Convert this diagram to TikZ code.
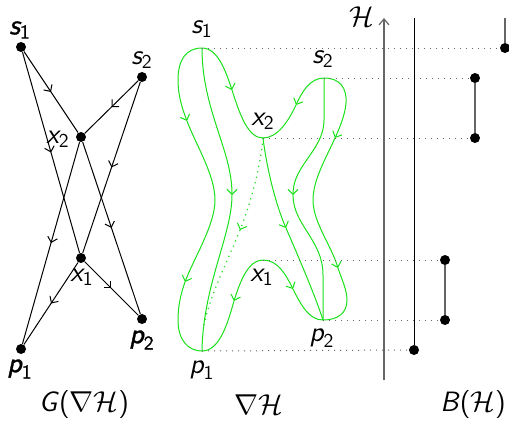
\documentclass[tikz,border=0pt]{standalone}
\usepackage{amsmath}
\usepackage{fontspec}
\newfontfamily\fbsans{lmsans10-regular.otf}[ItalicFont=lmsans10-oblique.otf, FakeBold=1.2]
\usetikzlibrary{arrows.meta,decorations.markings}
\definecolor{gr}{RGB}{25,225,25}
\newcommand\lb[2]{\textsf{$\text{\itshape #1}_{\text{#2}}$}}
\newcommand\blb[2]{{\fbsans$\text{\itshape #1}_{\text{#2}}$}}
\begin{document}
\begin{tikzpicture}[x=0.5pt,y=-0.5pt,font=\fontsize{14}{17}\selectfont,
  dot/.style={circle,fill=black,inner sep=0pt,minimum size=5pt},
  edge/.style={line width=0.5pt,postaction={decorate},
    decoration={markings,mark=at position 0.5 with {\arrow{Straight Barb[length=2.5pt,width=5pt]}}}},
  gl/.style={draw=gr,line width=0.5pt},
  gtip/.style={-{Straight Barb[length=2.5pt,width=5pt]}},
  gdot/.style={draw=gr,line width=0.6pt,dash pattern=on 0.6pt off 2.2pt},
  dotl/.style={draw=black!60,line width=0.5pt,dash pattern=on 0.6pt off 2.4pt},
  bar/.style={draw=black!60,line width=0.7pt},
  txt/.style={inner sep=0pt}]
\useasboundingbox (0,0) rectangle (509,425);

% ---------- left graph G ----------
\node[dot] (ls1) at (21,47) {};
\node[dot] (ls2) at (142,77) {};
\node[dot] (lx2) at (81,137) {};
\node[dot] (lx1) at (81,258) {};
\node[dot] (lp1) at (21,349) {};
\node[dot] (lp2) at (142,319) {};
\draw[edge] (ls1) -- (lx2);
\draw[edge] (ls1) -- (lx1);
\draw[edge] (ls2) -- (lx2);
\draw[edge] (ls2) -- (lx1);
\draw[edge] (lx2) -- (lp1);
\draw[edge] (lx2) -- (lp2);
\draw[edge] (lx1) -- (lp1);
\draw[edge] (lx1) -- (lp2);
\node[txt] (tls1) at (20,30) {\blb{s}{1}};
\node[txt] (tls2) at (142,60) {\lb{s}{2}};
\node[txt] (tlx2) at (58,139) {\lb{x}{2}};
\node[txt] (tlx1) at (82,277) {\lb{x}{1}};
\node[txt] (tlp1) at (20,369) {\blb{p}{1}};
\node[txt] (tlp2) at (142,340) {\blb{p}{2}};
\node[txt] (tG) at (84,405) {\textsf{\itshape G}\textsf{(}$\nabla\mathcal{H}$\textsf{)}};

% ---------- middle: nabla H ----------
\coordinate (mS1) at (202,48);
\coordinate (mS2) at (324,78);
\coordinate (mX2) at (263,138);
\coordinate (mX1) at (263,260);
\coordinate (mP2) at (323,320);
\coordinate (mP1) at (202,351);

% left boundary
\draw[gl,gtip] (mS1) .. controls (186,48) and (178,60) .. (178,80) .. controls (178,95) and (182,108) .. (187,121);
\draw[gl,gtip] (187,121) .. controls (196,145) and (215,175) .. (215,200) .. controls (215,225) and (194,258) .. (185,282);
\draw[gl] (185,282) .. controls (180,296) and (178,308) .. (178,320) .. controls (178,340) and (188,351) .. (mP1);
% s1 -> p1 interior
\draw[gl,gtip] (mS1) .. controls (202,110) and (232,150) .. (232,195);
\draw[gl] (232,195) .. controls (232,235) and (203,285) .. (mP1);
% s1 -> x2
\draw[gl,gtip] (mS1) .. controls (218,48) and (226,72) .. (232,90);
\draw[gl] (232,90) .. controls (240,115) and (248,138) .. (mX2);
% s2 -> x2
\draw[gl,gtip] (mS2) .. controls (310,78) and (302,92) .. (296,105);
\draw[gl] (296,105) .. controls (289,120) and (278,138) .. (mX2);
% right boundary
\draw[gl,gtip] (mS2) .. controls (340,78) and (347,88) .. (346,103) .. controls (345,115) and (340,127) .. (335,138);
\draw[gl,gtip] (335,138) .. controls (326,158) and (313,180) .. (313,200) .. controls (313,222) and (331,245) .. (338,268);
\draw[gl] (338,268) .. controls (342,280) and (347,290) .. (347,300) .. controls (347,313) and (338,320) .. (mP2);
% s2 -> p2 interior
\draw[gl,gtip] (mS2) -- (324,120) .. controls (324,150) and (293,165) .. (293,195);
\draw[gl] (293,195) .. controls (293,225) and (323,240) .. (323,275) -- (mP2);
% x2 -> p2
\draw[gl,gtip] (mX2) .. controls (267,170) and (276,205) .. (286,228);
\draw[gl] (286,228) .. controls (298,256) and (315,295) .. (mP2);
% x2 -> p1 dotted
\draw[gdot,-{Straight Barb[length=2.5pt,width=5pt,line width=0.5pt]}] (mX2) .. controls (260,170) and (250,205) .. (240,230);
\draw[gdot] (240,230) .. controls (228,260) and (210,295) .. (204,325);
% x1 -> p1
\draw[gl,gtip] (mX1) .. controls (248,260) and (240,282) .. (234,301);
\draw[gl] (234,301) .. controls (228,322) and (220,351) .. (mP1);
% x1 -> p2
\draw[gl,gtip] (mX1) .. controls (278,260) and (286,275) .. (293,289);
\draw[gl] (293,289) .. controls (301,305) and (309,320) .. (mP2);

\node[txt] (tms1) at (202,29) {\lb{s}{1}};
\node[txt] (tms2) at (323,59) {\lb{s}{2}};
\node[txt] (tmx2) at (263,121) {\lb{x}{2}};
\node[txt] (tmx1) at (262,277) {\lb{x}{1}};
\node[txt] (tmp2) at (322,338) {\lb{p}{2}};
\node[txt] (tmp1) at (202,370) {\lb{p}{1}};
\node[txt] (tN) at (259,405) {$\nabla\mathcal{H}$};

% ---------- right: barcode ----------
\coordinate (axb) at (384,380);
\coordinate (axt) at (384,18);
\node[dot] (bS1) at (505,48) {};
\coordinate (bS1t) at (505,18);
\node[dot] (bS2) at (475,78) {};
\node[dot] (bX2) at (475,138) {};
\node[dot] (bX1) at (445,260) {};
\node[dot] (bP2) at (445,320) {};
\node[dot] (bP1) at (414,350) {};
\coordinate (bP1t) at (414,18);

\draw[dotl] (mS1) -- (bS1);
\draw[dotl] (mS2) -- (bS2);
\draw[dotl] (mX2) -- (bX2);
\draw[dotl] (mX1) -- (bX1);
\draw[dotl] (mP2) -- (bP2);
\draw[dotl] (mP1) -- (bP1);

\draw[draw=black!60,line width=0.6pt,-{Straight Barb[length=3pt,width=5pt]}] (axb) -- (axt);
\node[txt] (tH) at (362,17) {$\mathcal{H}$};
\draw[line width=0.5pt] (bP1) -- (bP1t);
\draw[bar] (bS1) -- (bS1t);
\draw[bar] (bS2) -- (bX2);
\draw[bar] (bX1) -- (bP2);
\node[txt] (tB) at (473,405) {\textsf{\itshape B}\textsf{(}$\mathcal{H}$\textsf{)}};
\end{tikzpicture}
\end{document}
